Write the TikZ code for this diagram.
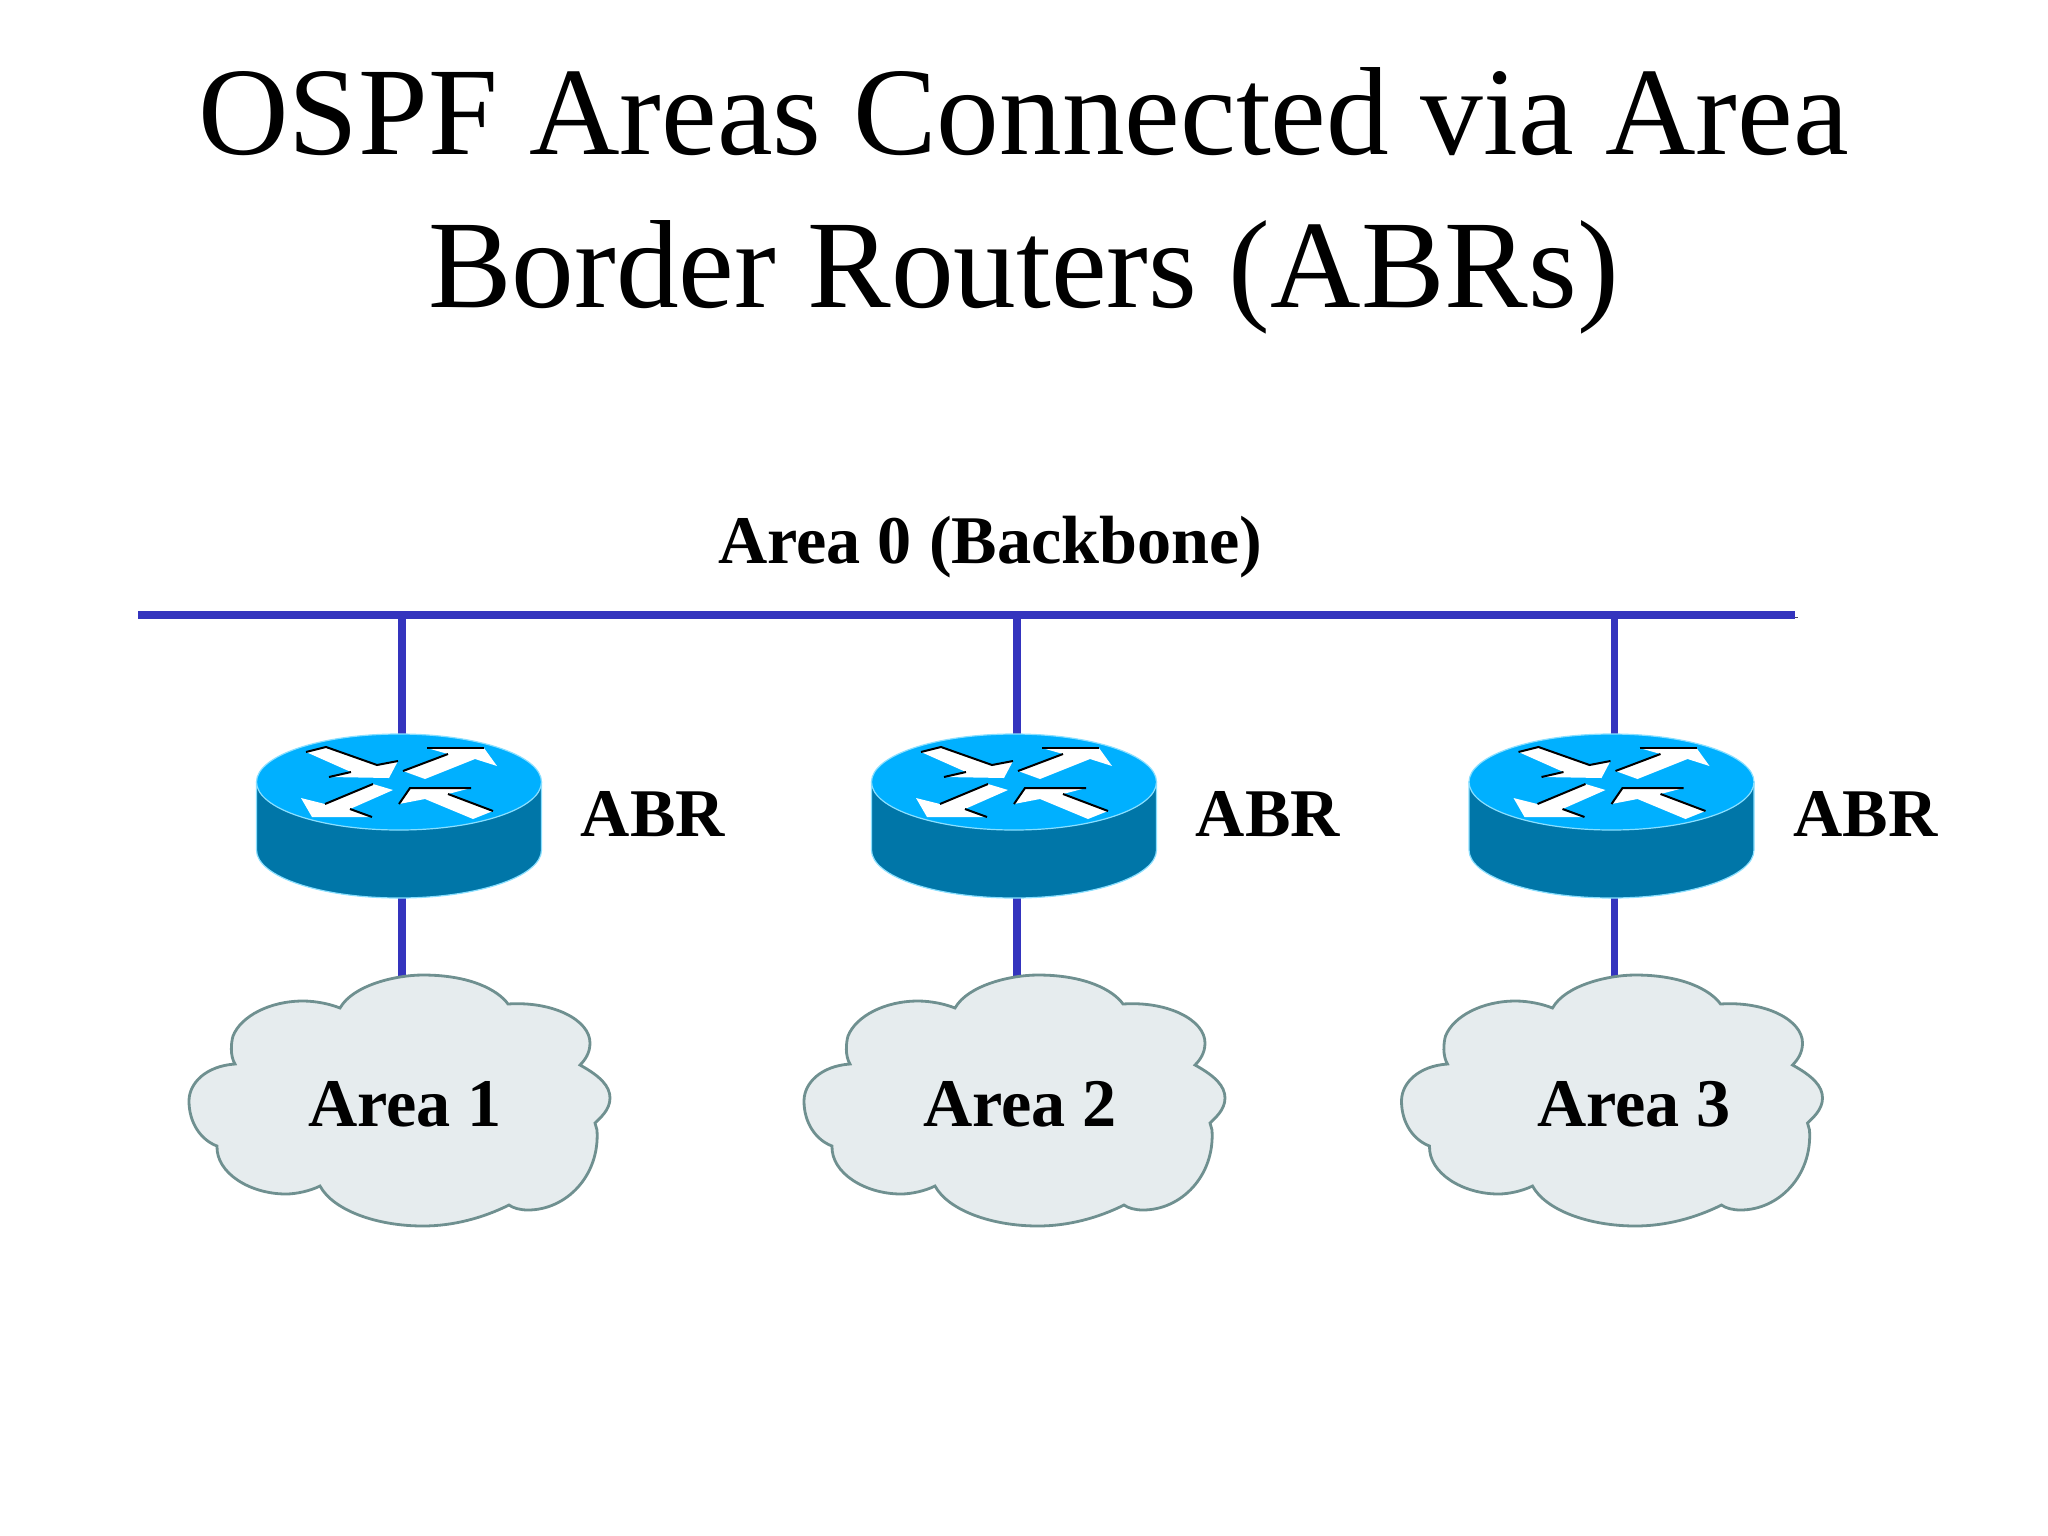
\documentclass[tikz,border=0pt]{standalone}
\usepackage{fontspec}
\setmainfont{Liberation Serif}
\usetikzlibrary{backgrounds}
\definecolor{busblue}{HTML}{3434BE}
\definecolor{busshade}{HTML}{45455F}
\definecolor{routertop}{HTML}{00B0FF}
\definecolor{routerside}{HTML}{0076A8}
\definecolor{routerrim}{HTML}{8ADFFF}
\definecolor{cloudfill}{HTML}{E6ECEE}
\definecolor{cloudline}{HTML}{6F9090}
\tikzset{
  link/.style={busblue,line width=0.075cm,preaction={draw=busshade,transform canvas={shift={(0.025cm,-0.025cm)}}}},
  arrowfill/.style={fill=white},
  arrowedge/.style={black,line width=0.02cm},
  lbl/.style={font=\bfseries\fontsize{19.4}{23}\selectfont,inner sep=0pt},
  router/.pic={
    \begin{scope}[xshift=-0.02cm]
    \draw[fill=routerside,draw=routerrim,line width=0.012cm] (-143.5,0) -- (-143.5,68) .. controls (-143.5,94.5) and (-79.7,116) .. (-1,116) .. controls (77.7,116) and (141.5,94.5) .. (141.5,68) -- (141.5,0) -- cycle;
    \draw[fill=routertop,draw=routerrim,line width=0.012cm] (-1,0) ellipse [x radius=142.5,y radius=48];
    \fill[arrowfill] (-94,-30) -- (-74,-35) -- (-23,-17) -- (-2,-21) -- (-11,-4) -- (-71,-5) -- (-49,-10) -- cycle;
    \draw[arrowedge] (-94,-30) -- (-74,-35) -- (-23,-17) -- (-2,-21);
    \draw[arrowedge] (-71,-5) -- (-49,-10);
    \fill[arrowfill] (27,-34) -- (84,-34) -- (97,-16) -- (75,-23) -- (25,-3) -- (3,-11) -- (48,-28) -- cycle;
    \draw[arrowedge] (27,-34) -- (84,-34);
    \draw[arrowedge] (3,-11) -- (48,-28);
    \fill[arrowfill] (-99,16) -- (-75,22) -- (-27,2) -- (-7,8) -- (-50,27) -- (-28,35) -- (-88,35) -- cycle;
    \draw[arrowedge] (-75,22) -- (-27,2);
    \draw[arrowedge] (-50,27) -- (-28,35);
    \fill[arrowfill] (10,6) -- (71,6) -- (48,12) -- (93,29) -- (73,37) -- (25,17) -- (-1,22) -- cycle;
    \draw[arrowedge] (-1,22) -- (10,6) -- (71,6);
    \draw[arrowedge] (48,12) -- (93,29);
    \end{scope}
  },
  areacloud/.pic={
    \draw[fill=cloudfill,draw=cloudline,line width=0.028cm] (-62,-95)
      .. controls (-49,-118) and (-6,-128) .. (21,-128)
      .. controls (68,-128) and (96,-113) .. (106,-99)
      .. controls (151,-102) and (188,-83) .. (188,-60)
      .. controls (188,-50) and (183,-43) .. (178,-38)
      .. controls (198,-27) and (208,-17) .. (208,-5)
      .. controls (208,7) and (198,15) .. (193,20)
      -- (195,27)
      .. controls (198,73) and (164,107) .. (126,107)
      .. controls (118,107) and (111,105) .. (107,102)
      .. controls (81,115) and (51,123) .. (21,123)
      .. controls (-26,123) and (-69,107) .. (-82,83)
      .. controls (-92,88) and (-106,91) .. (-116,91)
      .. controls (-152,91) and (-186,70) .. (-185,43)
      .. controls (-201,37) and (-213,20) .. (-213,-2)
      .. controls (-213,-20) and (-196,-37) .. (-167,-39)
      .. controls (-172,-47) and (-171,-60) .. (-169,-67)
      .. controls (-161,-87) and (-132,-102) .. (-99,-102)
      .. controls (-86,-102) and (-72,-99) .. (-62,-95) -- cycle;
  }
}
\begin{document}
\begin{tikzpicture}[x=0.01cm,y=-0.01cm]
\useasboundingbox (0,0) rectangle (2048,1536);
\node[font=\fontsize{35.65}{43.5}\selectfont,align=center,inner sep=0pt] (title) at (1023.5,201) {OSPF Areas Connected via Area\\Border Routers (ABRs)};
\node[lbl,anchor=base] (backbone) at (990.5,563) {Area 0 (Backbone)};
\coordinate (busleft) at (138,615);
\coordinate (busright) at (1795,615);
\draw[link] (busleft) -- (busright);
\foreach \i/\x/\t in {1/402/405,2/1017/1020,3/1614.5/1634} {
  \coordinate (bus\i) at (\x,615);
  \node[inner sep=0pt] (abr\i) at (\x,782) {};
  \pic at (abr\i) {router};
  \node[lbl,anchor=base] (abrlbl\i) at (\x+251,836) {ABR};
  \pic at (\x,1103) {areacloud};
  \node[lbl] (area\i) at (\t,1104) {Area \i};
  \begin{scope}[on background layer]
  \draw[link] (bus\i) -- (abr\i);
  \draw[link] (abr\i) -- (abr\i |- area\i);
  \end{scope}
}
\end{tikzpicture}
\end{document}
